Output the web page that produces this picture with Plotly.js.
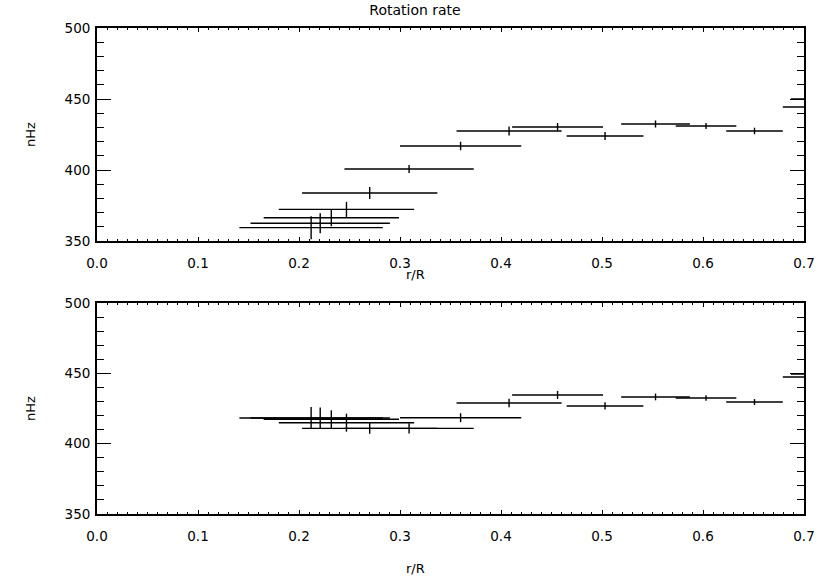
<!DOCTYPE html>
<html>
<head>
<meta charset="utf-8">
<script src="https://cdn.plot.ly/plotly-3.0.1.min.js"></script>
<style>
  html, body { margin: 0; padding: 0; background: #fff; }
  #chart { width: 830px; height: 579px; }
</style>
</head>
<body>
<div id="chart"></div>
<script>
// r/R 위치와 반폭 (두 패널 공통)
const radius = [0.212, 0.221, 0.232, 0.247, 0.270, 0.309, 0.360, 0.408, 0.456, 0.503, 0.553, 0.603, 0.651, 0.704, 0.712];
const radiusErr = [0.071, 0.069, 0.067, 0.067, 0.067, 0.064, 0.060, 0.052, 0.045, 0.038, 0.034, 0.030, 0.028, 0.025, 0.025];

// 위 패널 회전율 (nHz)
const rateTop = [359.4, 362.5, 366.4, 372.3, 383.8, 400.7, 416.9, 427.5, 430.3, 423.9, 432.4, 431.0, 427.5, 444.4, 450.0];
const rateTopErr = [8.1, 7.0, 6.0, 5.3, 4.2, 2.8, 3.0, 3.2, 2.8, 2.8, 2.5, 2.1, 2.3, 2.0, 2.0];

// 아래 패널 회전율 (nHz)
const rateBottom = [418.2, 418.2, 417.3, 414.9, 410.9, 410.9, 418.4, 428.9, 434.6, 426.8, 433.2, 432.5, 429.6, 447.4, 449.5];
const rateBottomErr = [7.8, 7.5, 6.4, 6.4, 3.9, 3.6, 3.2, 3.1, 2.9, 2.6, 2.4, 2.0, 2.1, 2.0, 2.0];

const xTicks = [0, 0.1, 0.2, 0.3, 0.4, 0.5, 0.6, 0.7];
const xTickText = ['0.0', '0.1', '0.2', '0.3', '0.4', '0.5', '0.6', '0.7'];
const yTicks = [350, 400, 450, 500];

const INK = '#000';
const FONT = 'DejaVu Sans, sans-serif';
const TOP_DOMAIN = [0.5617, 1];
const BOTTOM_DOMAIN = [0, 0.4342];

function trace(y, yerr, xa, ya) {
  return {
    x: radius, y, xaxis: xa, yaxis: ya,
    type: 'scatter', mode: 'markers',
    marker: { size: 1, opacity: 0 },
    error_x: { type: 'data', array: radiusErr, visible: true, color: INK, thickness: 1.4, width: 0 },
    error_y: { type: 'data', array: yerr, visible: true, color: INK, thickness: 1.4, width: 0 },
    hoverinfo: 'x+y',
  };
}
// 위/오른쪽 minor 눈금용 겹친 서브플롯 (mirror는 major만 복제)
function ghost(y, xa, ya) {
  return { x: radius, y, xaxis: xa, yaxis: ya, type: 'scatter', mode: 'markers',
    marker: { size: 1, color: 'rgba(0,0,0,0)' }, hoverinfo: 'none' };
}

function xAxis(anchor) {
  return {
    anchor, range: [0, 0.7], tickvals: xTicks, ticktext: xTickText,
    ticks: 'inside', ticklen: 4, tickwidth: 1.4, tickcolor: INK,
    minor: { dtick: 0.01, ticks: 'inside', ticklen: 2, tickwidth: 1.2, tickcolor: INK },
    showline: true, linewidth: 1.8, linecolor: INK, mirror: 'allticks',
    showgrid: false, zeroline: false,
    ticklabelstandoff: 9,
    tickfont: { family: FONT, size: 13.5, color: INK },
  };
}
function yAxis(anchor, domain) {
  return {
    anchor, domain, range: [350, 500], tickvals: yTicks,
    ticks: 'inside', ticklen: 14, tickwidth: 1.4, tickcolor: INK,
    minor: { dtick: 10, ticks: 'inside', ticklen: 7, tickwidth: 1.4, tickcolor: INK },
    showline: true, linewidth: 1.8, linecolor: INK, mirror: 'allticks',
    showgrid: false, zeroline: false,
    ticklabelstandoff: 2,
    tickfont: { family: FONT, size: 13.5, color: INK },
    title: { text: 'nHz', font: { family: FONT, size: 13, color: INK }, standoff: 26 },
  };
}
function xMirror(anchor) {
  return { anchor, side: 'top', range: [0, 0.7], dtick: 0.1, ticks: 'inside', ticklen: 4,
    minor: { dtick: 0.01, ticks: 'inside', ticklen: 2 }, tickcolor: INK,
    showticklabels: false, showgrid: false, zeroline: false };
}
function yMirror(anchor, domain) {
  return { anchor, domain, side: 'right', range: [350, 500], dtick: 50, ticks: 'inside', ticklen: 14,
    minor: { dtick: 10, ticks: 'inside', ticklen: 7 }, tickcolor: INK,
    showticklabels: false, showgrid: false, zeroline: false };
}

function xTitle(yPaper, shift) {
  return { text: 'r/R', xref: 'paper', yref: 'paper', x: 0.4498, y: yPaper, yshift: shift,
    xanchor: 'center', yanchor: 'middle', showarrow: false,
    font: { family: FONT, size: 13, color: INK } };
}

const layout = {
  width: 830, height: 579,
  paper_bgcolor: '#fff', plot_bgcolor: 'rgba(0,0,0,0)',
  margin: { l: 97, r: 26, t: 28, b: 65 },
  showlegend: false,
  title: { text: 'Rotation rate', font: { family: FONT, size: 14, color: INK }, x: 0.5, xanchor: 'center', y: 0.983, yanchor: 'middle' },
  xaxis: xAxis('y'),
  yaxis: yAxis('x', TOP_DOMAIN),
  xaxis2: xAxis('y2'),
  yaxis2: yAxis('x2', BOTTOM_DOMAIN),
  xaxis3: xMirror('y3'),
  yaxis3: yMirror('x3', TOP_DOMAIN),
  xaxis4: xMirror('y4'),
  yaxis4: yMirror('x4', BOTTOM_DOMAIN),
  annotations: [xTitle(TOP_DOMAIN[0], -33), xTitle(BOTTOM_DOMAIN[0], -54)],
};

Plotly.newPlot('chart', [
  trace(rateTop, rateTopErr, 'x', 'y'),
  trace(rateBottom, rateBottomErr, 'x2', 'y2'),
  ghost(rateTop, 'x3', 'y3'),
  ghost(rateBottom, 'x4', 'y4'),
], layout, { displayModeBar: false, responsive: false });
</script>
</body>
</html>
